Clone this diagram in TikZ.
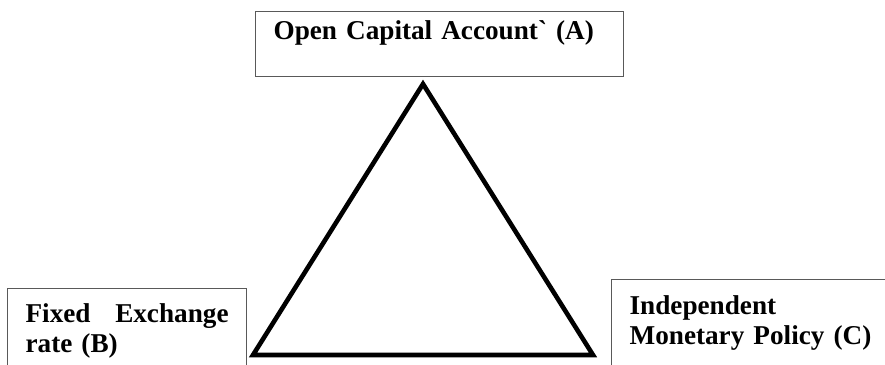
\documentclass[tikz,border=0pt]{standalone}
\usepackage{fontspec}
\setmainfont{Liberation Serif}
\usetikzlibrary{positioning}

\begin{document}
\begin{tikzpicture}[
    x=1pt, y=-1pt,
    font=\fontsize{27.2}{30}\selectfont\bfseries,
    caja/.style={
      draw=black!65, line width=1.2pt, anchor=north west, align=left,
      inner xsep=18pt, inner ysep=0pt
    },
    tri/.style={line width=4.6pt, line join=miter}
  ]
    \useasboundingbox (0,0) rectangle (885,364);
    \clip (0,0) rectangle (885,364);
    \node[caja, text width=332pt, text height=28pt, text depth=37pt]
      (account) at (255,11) {Open Capital Account\textasciigrave{} (A)};
    \node[caja, text width=203pt, text height=34pt, text depth=90pt]
      (exchange) at (7,288) {Fixed\hfill Exchange\\rate (B)};
    \node[caja, text width=300pt, text height=35pt, text depth=90pt]
      (policy) at (611,279) {Independent\\Monetary Policy (C)};
    \coordinate (apex) at (423,84);
    \coordinate (left) at (253,355);
    \coordinate (right) at (593,355);
    \draw[tri] (apex) -- (right) -- (left) -- cycle;
  \end{tikzpicture}
\end{document}
